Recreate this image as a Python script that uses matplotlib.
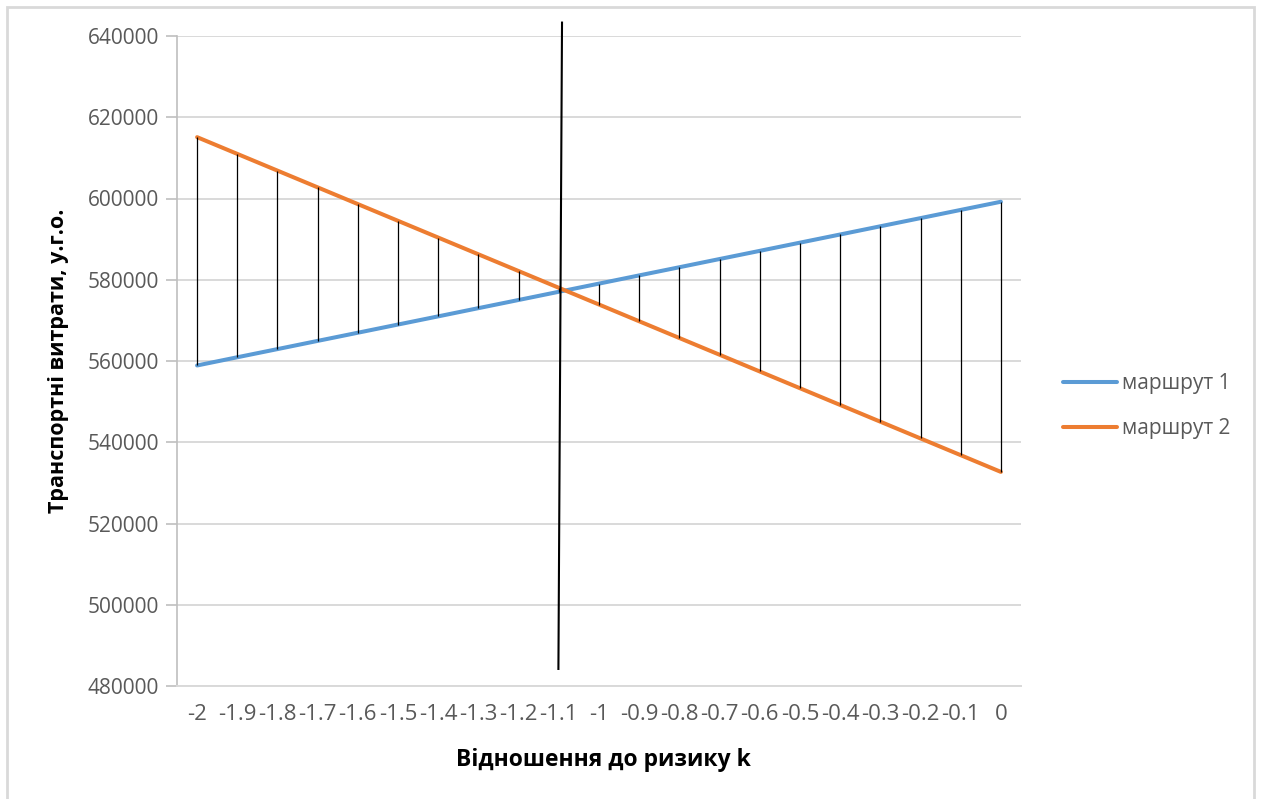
import matplotlib.pyplot as plt
from matplotlib.patches import Rectangle

k_labels = ["-2", "-1.9", "-1.8", "-1.7", "-1.6", "-1.5", "-1.4", "-1.3", "-1.2", "-1.1", "-1",
            "-0.9", "-0.8", "-0.7", "-0.6", "-0.5", "-0.4", "-0.3", "-0.2", "-0.1", "0"]

route1 = [558900, 560920, 562930, 564950, 566960, 568980, 570990, 573010, 575020, 577040, 579050,
          581070, 583080, 585100, 587110, 589130, 591140, 593160, 595170, 597190, 599200]

route2 = [615100, 610980, 606860, 602740, 598620, 594500, 590380, 586260, 582140, 578020, 573900,
          569780, 565660, 561540, 557420, 553300, 549180, 545060, 540940, 536820, 532700]

# hand-drawn separator near the crossing point (category index, cost)
split_x = [8.99, 9.08]
split_y = [484200, 643300]

y_ticks = [480000, 500000, 520000, 540000, 560000, 580000, 600000, 620000, 640000]

plt.rcParams['font.family'] = ['Open Sans', 'DejaVu Sans']
grey_text = '#595959'

fig = plt.figure(figsize=(12.61, 7.99), dpi=100)
ax = fig.add_axes([177 / 1261, 113 / 799, 844 / 1261, 650 / 799])

pos = list(range(len(k_labels)))

# high-low lines between the two routes
lo = [min(a, b) for a, b in zip(route1, route2)]
hi = [max(a, b) for a, b in zip(route1, route2)]
ax.vlines(pos, lo, hi, colors='black', linewidth=0.9, zorder=4)

ax.plot(pos, route1, color='#5b9bd5', linewidth=2.9, label='маршрут 1', zorder=3,
        solid_capstyle='round')
ax.plot(pos, route2, color='#ed7d31', linewidth=2.9, label='маршрут 2', zorder=3,
        solid_capstyle='round')

ax.plot(split_x, split_y, color='black', linewidth=1.5, clip_on=False, zorder=5)

ax.set_xlim(-0.5, len(k_labels) - 0.5)
ax.set_ylim(480000, 640000)
ax.set_yticks(y_ticks)
ax.set_yticklabels([str(v) for v in y_ticks])
ax.set_xticks(pos)
ax.set_xticklabels(k_labels)

ax.grid(axis='y', color='#d9d9d9', linewidth=1.4)
ax.set_axisbelow(True)
for side in ['top', 'right']:
    ax.spines[side].set_visible(False)
ax.spines['left'].set_color('#bfbfbf')
ax.spines['bottom'].set_color('#d9d9d9')
ax.spines['left'].set_linewidth(1.2)
ax.spines['bottom'].set_linewidth(1.4)

ax.tick_params(axis='y', colors='#bfbfbf', length=8, width=1.2, labelcolor=grey_text,
               labelsize=15, pad=5)
ax.tick_params(axis='x', length=0, labelcolor=grey_text, labelsize=16, pad=13)

ax.set_xlabel('Відношення до ризику k', fontsize=16.5, fontweight='bold')
ax.xaxis.set_label_coords(0.505, -0.095)
ax.set_ylabel('Транспортні витрати, у.г.о.', fontsize=15.5, fontweight='bold')
ax.yaxis.set_label_coords(-0.128, 0.5)

leg = fig.legend(loc='center left', bbox_to_anchor=(1044 / 1261, (799 - 406) / 799),
                 frameon=False, fontsize=15, handlelength=2.6, labelspacing=1.15,
                 handletextpad=0.25)
for t in leg.get_texts():
    t.set_color(grey_text)

# chart area border
fig.patches.append(Rectangle((7 / 1261, -0.05), 1247 / 1261, (799 - 7) / 799 + 0.05,
                             transform=fig.transFigure, fill=False,
                             edgecolor='#d9d9d9', linewidth=2))

fig.savefig('out.png', dpi=100)
